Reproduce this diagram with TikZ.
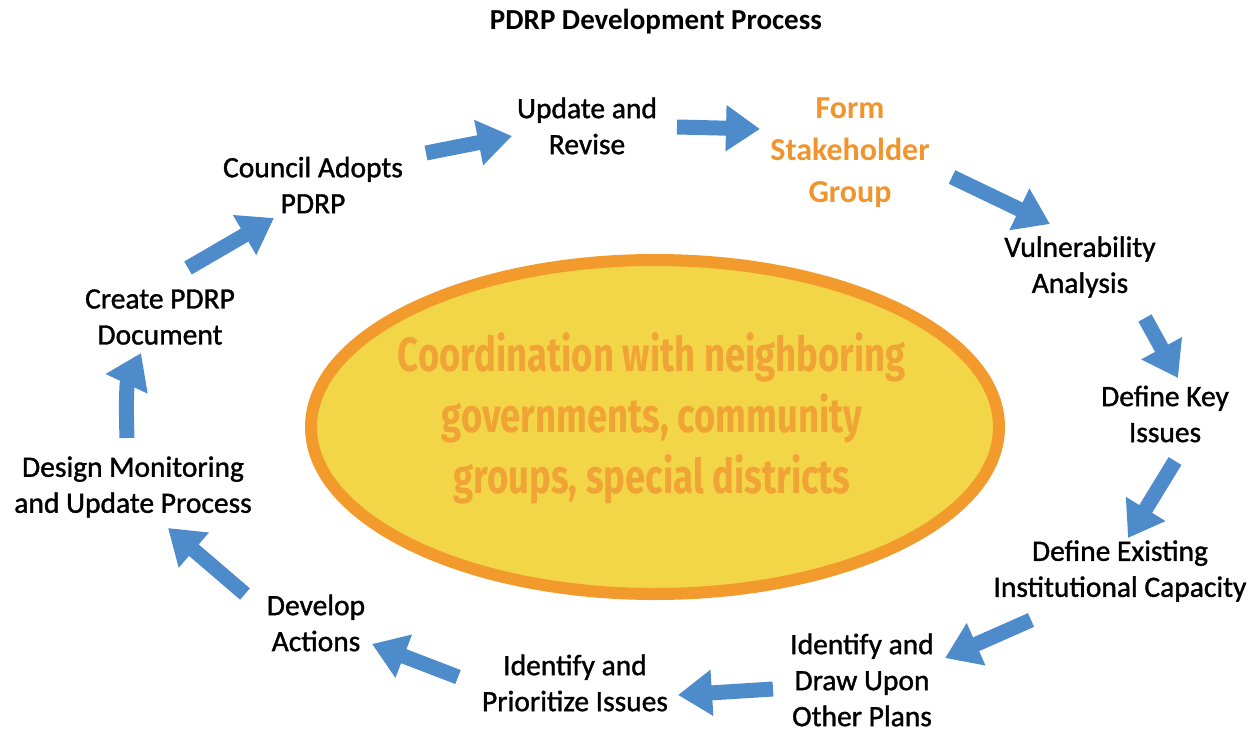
\documentclass[tikz,border=0pt]{standalone}
\usepackage{fontspec}
\setmainfont{Carlito}
\newfontfamily\stepfont[FakeBold=1.2]{Carlito}
\newfontfamily\condfont[FakeStretch=0.76]{Fira Sans}
\usetikzlibrary{arrows.meta,shapes.geometric}

\definecolor{arrowblue}{HTML}{4E8BCB}
\definecolor{discfill}{HTML}{F3D548}
\definecolor{discrim}{HTML}{F29A2C}
\definecolor{disctext}{HTML}{F0A435}
\definecolor{keystep}{HTML}{F0952D}

\tikzset{
  stepname/.style={align=center, inner sep=0pt, text=black,
    font=\stepfont\fontsize{29.5}{36}\selectfont},
  keyname/.style={align=center, inner sep=0pt, text=keystep,
    font=\fontsize{32}{42}\selectfont\bfseries},
  flow/.style={draw=arrowblue, line width=15pt,
    -{Triangle[width=44pt,length=34pt]}},
}

\begin{document}
\begin{tikzpicture}[x=1pt, y=-1pt]
\useasboundingbox (0,0) rectangle (1259,731);

% title
\node[inner sep=0pt, font=\fontsize{29}{34}\selectfont\bfseries] (title) at (656,22) {PDRP Development Process};

% central disc
\node[ellipse, draw=discrim, fill=discfill, line width=12pt,
      minimum width=688pt, minimum height=334pt, inner sep=0pt] (disc) at (655,427) {};
\node[align=center, text=disctext, inner sep=0pt,
      font=\condfont\fontsize{48}{61}\selectfont\bfseries] (coord) at (652,418)
  {Coordination with neighboring\\governments, community\\groups, special districts};

% process steps
\node[stepname] (update)   at (587,126) {Update and\\Revise};
\node[keyname]  (form)     at (850,153) {Form\\Stakeholder\\Group};
\node[stepname] (vuln)     at (1080,267) {Vulnerability\\Analysis};
\node[stepname] (keyiss)   at (1165,414) {Define Key\\Issues};
\node[stepname] (capacity) at (1120,571) {Define Existing\\Institutional Capacity};
\node[stepname] (plans)    at (862,680) {Identify and\\Draw Upon\\Other Plans};
\node[stepname] (priority) at (575,683) {Identify and\\Prioritize Issues};
\node[stepname] (actions)  at (316,623) {Develop\\Actions};
\node[stepname] (monitor)  at (133,487) {Design Monitoring\\and Update Process};
\node[stepname] (create)   at (160,317) {Create PDRP\\Document};
\node[stepname] (council)  at (313,185) {Council Adopts\\PDRP};

% arrow ends between the steps
\coordinate (a1s) at (426,153);  \coordinate (a1e) at (512,136);
\coordinate (a2s) at (677,127);  \coordinate (a2e) at (760,129);
\coordinate (a3s) at (952,177);  \coordinate (a3e) at (1050,224);
\coordinate (a4s) at (1145,318); \coordinate (a4e) at (1178,378);
\coordinate (a5s) at (1175,461); \coordinate (a5e) at (1128,538);
\coordinate (a6s) at (1031,620); \coordinate (a6e) at (945,658);
\coordinate (a7s) at (773,689);  \coordinate (a7e) at (678,695);
\coordinate (a8s) at (458,677);  \coordinate (a8e) at (372,644);
\coordinate (a9s) at (245,594);  \coordinate (a9e) at (168,528);
\coordinate (a10s) at (127,438); \coordinate (a10e) at (141,353);
\coordinate (a11s) at (188,268); \coordinate (a11e) at (274,218);

\draw[flow] (a1s) -- (a1e);
\draw[flow] (a2s) -- (a2e);
\draw[flow] (a3s) -- (a3e);
\draw[flow] (a4s) -- (a4e);
\draw[flow] (a5s) -- (a5e);
\draw[flow] (a6s) -- (a6e);
\draw[flow] (a7s) -- (a7e);
\draw[flow] (a8s) -- (a8e);
\draw[flow] (a9s) -- (a9e);
\draw[flow] (a10s) to[out=92, in=-115] (a10e);
\draw[flow] (a11s) -- (a11e);
\end{tikzpicture}
\end{document}
